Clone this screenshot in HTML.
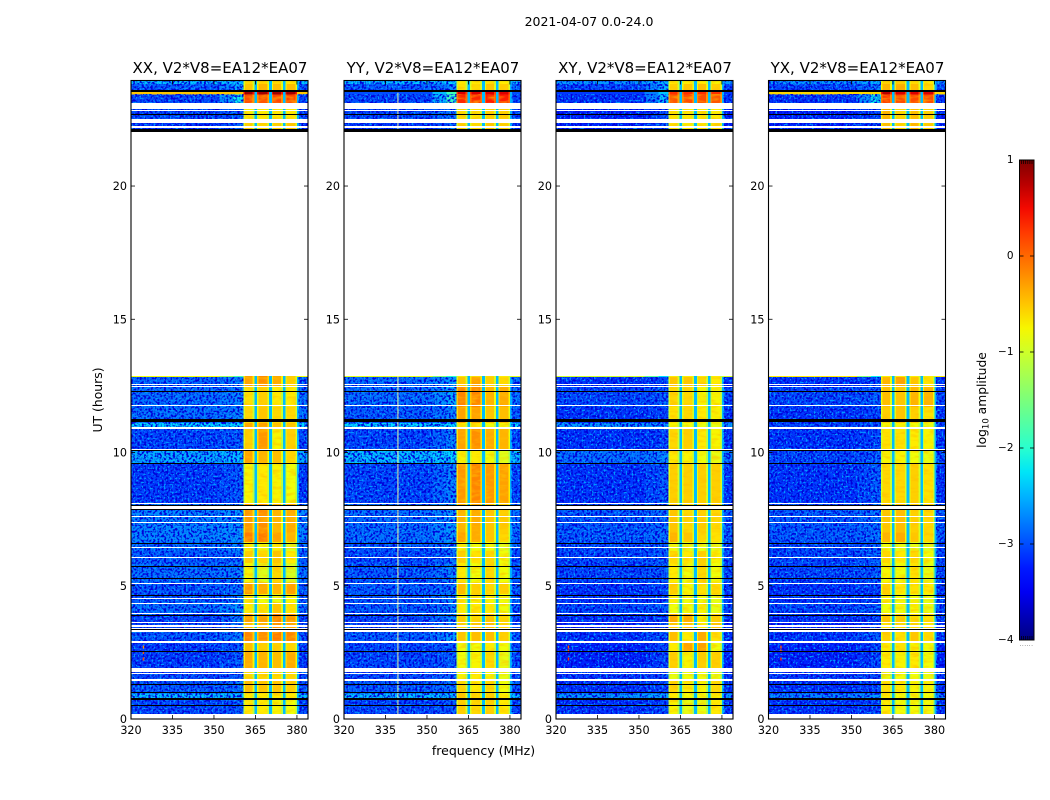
<!DOCTYPE html>
<html>
<head>
<meta charset="utf-8">
<title>2021-04-07 0.0-24.0</title>
<style>
html,body{margin:0;padding:0;background:#fff;width:1050px;height:800px;overflow:hidden}
svg{display:block}
text{font-family:"DejaVu Sans","Liberation Sans",sans-serif;fill:#000}
</style>
</head>
<body>
<svg id="fig" width="1050" height="800" viewBox="0 0 1050 800" xmlns="http://www.w3.org/2000/svg">
  <defs>
    <filter id="speckle-dark" x="0" y="0" width="100%" height="100%" color-interpolation-filters="sRGB">
      <feTurbulence type="fractalNoise" baseFrequency="0.45" numOctaves="1" seed="4"/>
      <feColorMatrix type="matrix" values="0 0 0 0 0  0 0 0 0 0  0 0 0 0 0.85  6 0 0 0 -2.75"/>
    </filter>
    <filter id="speckle-light" x="0" y="0" width="100%" height="100%" color-interpolation-filters="sRGB">
      <feTurbulence type="fractalNoise" baseFrequency="0.5" numOctaves="1" seed="11"/>
      <feColorMatrix type="matrix" values="0 0 0 0 0  0 0 0 0 0.6  0 0 0 0 1  0 6 0 0 -3.3"/>
    </filter>
    <filter id="band-blotch" x="0" y="0" width="100%" height="100%" color-interpolation-filters="sRGB">
      <feTurbulence type="fractalNoise" baseFrequency="0.1 0.3" numOctaves="2" seed="7"/>
      <feColorMatrix type="matrix" values="0 0 0 0 1  0 0 0 0 0.75  0 0 0 0 0  3 0 0 0 -1.3"/>
    </filter>
    <linearGradient id="jet-gradient" x1="0" y1="1" x2="0" y2="0"></linearGradient>
  </defs>
  <text x="589" y="26" font-size="12.5" text-anchor="middle">2021-04-07 0.0-24.0</text>
  <text x="483.5" y="755" font-size="12.5" text-anchor="middle">frequency (MHz)</text>
  <text x="0" y="0" font-size="12.4" text-anchor="middle" transform="translate(102 400) rotate(-90)">UT (hours)</text>
  <g id="panels"></g>
  <g id="colorbar"></g>
  <text x="0" y="0" font-size="12.3" text-anchor="middle" transform="translate(986 400) rotate(-90)">log<tspan font-size="8.5" dy="2.5">10</tspan><tspan dy="-2.5"> amplitude</tspan></text>
  <text x="1026.5" y="646" font-size="6" letter-spacing="0.4" text-anchor="middle" style="fill:#666">......</text>
</svg>
<script>
// ---------- chart data ----------
const xTicks = [320, 335, 350, 365, 380];
const yTicks = [0, 5, 10, 15, 20];
const colorTicks = [1, 0, -1, -2, -3, -4];
const panelTitles = ['XX, V2*V8=EA12*EA07', 'YY, V2*V8=EA12*EA07', 'XY, V2*V8=EA12*EA07', 'YX, V2*V8=EA12*EA07'];
const freqRange = [320, 384];
const timeRange = [0, 23.96];
const colorRange = [-4, 1];

// time blocks (hours)
const blockStart = [0.19,0.79,0.96,1.49,1.91,2.55,2.89,3.27,3.6,3.98,4.37,4.7,5.13,5.86,6.3,6.65,7.0,7.8,8.1,9.6,10.05,10.9,11.1,11.7,12.45,12.83,22.04,22.51,22.89,23.44,23.6,23.83];
const blockEnd   = [0.79,0.96,1.49,1.91,2.55,2.89,3.27,3.6,3.98,4.37,4.7,5.13,5.86,6.3,6.65,7.0,7.8,8.1,9.6,10.05,10.9,11.1,11.7,12.45,12.83,12.87,22.51,22.89,23.44,23.6,23.83,23.96];

// log10 amplitude per block: [background, near-band, sub1, sub2, sub3, sub4]
const levelsXX = [
[-3.0,-2.9,-.7,-.7,-.75,-.8],[-2.4,-2.4,-.7,-.7,-.7,-.7],[-2.9,-2.8,-.45,-.5,-.5,-.55],[-3.0,-2.9,-.6,-.6,-.6,-.6],
[-3.05,-2.9,-.35,-.4,-.45,-.35],[-3.05,-2.9,-.45,-.55,-.55,-.6],[-2.9,-2.7,-.15,-.2,-.1,-.15],[-3,-2.8,-.45,-.4,-.2,-.3],
[-3,-2.7,-.3,-.3,-.15,-.25],[-2.8,-2.6,-.7,-.65,-.5,-.65],[-2.9,-2.7,-.65,-.8,-.85,-.75],[-2.9,-2.8,-.25,-.35,-.4,-.3],
[-2.8,-2.7,-.75,-.9,-.6,-.95],[-2.9,-2.8,-.55,-.6,-.5,-.7],[-2.8,-2.7,-.7,-.8,-.7,-.9],[-2.7,-2.6,-.1,-.1,-.3,-.4],
[-2.7,-2.6,-.25,-.2,-.4,-.35],[-2.7,-2.6,-.25,-.2,-.4,-.35],[-3.05,-2.9,-.75,-.7,-.75,-.8],[-2.5,-2.4,-.3,-.4,-.45,-.6],
[-3,-2.9,-.55,-.25,-.75,-.55],[-2.3,-2.3,-.3,-.3,-.5,-.5],[-2.8,-2.7,-.6,-.5,-.6,-.6],[-2.8,-2.7,-.65,-.55,-.7,-.7],
[-2.85,-2.7,-.3,-.2,-.35,-.55],[-.8,-1.8,-.3,-.2,-.35,-.55],[-3.1,-2.9,-.55,-.6,-.55,-.5],[-3,-2.9,-.7,-.7,-.7,-.7],
[-3,-2.2,.15,.1,.2,.2],[-.5,-.5,.85,.85,.85,.85],[-2.9,-2.5,-.5,-.4,-.45,-.45],[-2.4,-2.4,-.6,-.6,-.6,-.7]
];
const levelsYY = [
[-3,-2.9,-.55,-.6,-.55,-.7],[-2.4,-2.4,-.5,-.6,-.55,-.7],[-2.9,-2.8,-.6,-.7,-.6,-.8],[-3,-2.9,-.75,-.7,-.75,-.85],
[-3,-2.9,-.8,-.75,-.6,-.85],[-3,-2.9,-.8,-.8,-.7,-.8],[-2.9,-2.6,-.5,-.45,-.45,-.55],[-3,-2.8,-.6,-.5,-.45,-.6],
[-3,-2.7,-.55,-.6,-.5,-.6],[-2.9,-2.7,-.7,-.7,-.7,-.8],[-2.9,-2.7,-.7,-.75,-.75,-.8],[-2.9,-2.8,-.45,-.55,-.6,-.55],
[-2.9,-2.7,-.7,-.8,-.6,-.8],[-3,-2.8,-.55,-.65,-.6,-.8],[-2.9,-2.7,-.75,-.8,-.8,-.9],[-2.8,-2.6,-.3,-.35,-.5,-.6],
[-2.8,-2.6,-.4,-.35,-.5,-.55],[-2.8,-2.6,-.4,-.35,-.5,-.55],[-3,-2.7,-.25,-.15,-.25,-.3],[-2.4,-2.3,-.75,-.7,-.8,-.9],
[-3,-2.7,-.3,-.2,-.35,-.4],[-2.3,-2.3,-.7,-.7,-.8,-.8],[-2.9,-2.7,-.3,-.3,-.5,-.45],[-2.8,-2.5,-.15,-.15,-.4,-.35],
[-2.8,-2.6,-.5,-.3,-.55,-.6],[-.9,-2.0,-.7,-.6,-.6,-.7],[-3.1,-2.9,-.55,-.6,-.5,-.55],[-3,-2.8,-.6,-.65,-.55,-.55],
[-3,-1.9,.35,.35,.4,.4],[-3,-1.9,.6,.6,.6,.6],[-2.9,-2.7,-.65,-.6,-.5,-.55],[-2.4,-2.3,-.7,-.7,-.65,-.7]
];
const levelsXY = [
[-3.1,-3,-.75,-.85,-.85,-.7],[-2.6,-2.5,-.7,-.8,-.8,-.75],[-3.1,-3,-.6,-.7,-.75,-.6],[-3.1,-3,-.85,-.8,-.8,-.85],
[-3.2,-3,-.55,-.75,-.55,-.55],[-3.2,-3,-.7,-.3,-.3,-.8],[-3.1,-2.9,-.45,-.7,-.35,-.65],[-3.2,-3,-.5,-.5,-.7,-.5],
[-3.1,-3,-.35,-.35,-.75,-.55],[-3,-2.9,-.8,-.8,-.75,-.85],[-3.1,-3,-.7,-.8,-.8,-.85],[-3.1,-3,-.55,-.75,-.65,-.6],
[-3,-2.9,-.7,-.8,-.6,-.8],[-3,-2.9,-.6,-.7,-.55,-.75],[-3,-2.9,-.8,-.85,-.85,-.85],[-2.9,-2.8,-.4,-.5,-.6,-.65],
[-2.9,-2.8,-.5,-.6,-.55,-.6],[-2.9,-2.8,-.5,-.6,-.55,-.6],[-3.1,-2.9,-.55,-.55,-.55,-.55],[-2.8,-2.7,-.7,-.75,-.8,-.85],
[-3.1,-3,-.6,-.55,-.7,-.75],[-2.6,-2.6,-.75,-.8,-.85,-.85],[-3.1,-3,-.65,-.6,-.7,-.75],[-3,-2.9,-.6,-.6,-.75,-.75],
[-3.1,-3,-.5,-.5,-.6,-.7],[-1.0,-2.3,-.7,-.7,-.7,-.7],[-3.2,-3,-.65,-.7,-.65,-.6],[-3.2,-3,-.65,-.7,-.7,-.7],
[-3.1,-2.4,.1,.15,.15,.1],[-3.1,-2.4,.3,.3,.3,.3],[-3.0,-2.5,-.55,-.5,-.45,-.55],[-2.6,-2.5,-.7,-.7,-.7,-.75]
];
const levelsYX = [
[-3.1,-3,-.7,-.8,-.8,-.8],[-2.7,-2.6,-.7,-.8,-.8,-.8],[-3.1,-3,-.65,-.7,-.75,-.75],[-3.1,-3,-.85,-.8,-.8,-.85],
[-3.2,-3,-.7,-.75,-.7,-.8],[-3.2,-3,-.7,-.65,-.75,-.8],[-3.1,-2.9,-.55,-.65,-.5,-.6],[-3.2,-3,-.65,-.6,-.6,-.7],
[-3.1,-3,-.5,-.55,-.6,-.65],[-3,-2.9,-.8,-.8,-.75,-.85],[-3.1,-3,-.75,-.8,-.8,-.85],[-3.1,-3,-.55,-.7,-.65,-.7],
[-3,-2.9,-.75,-.8,-.65,-.85],[-3,-2.9,-.6,-.7,-.6,-.8],[-3,-2.9,-.8,-.85,-.85,-.9],[-2.9,-2.8,-.4,-.35,-.5,-.6],
[-2.9,-2.8,-.5,-.45,-.55,-.6],[-2.9,-2.8,-.5,-.45,-.55,-.6],[-3.1,-2.9,-.6,-.6,-.55,-.65],[-3,-2.9,-.75,-.75,-.8,-.85],
[-3.1,-3,-.65,-.65,-.7,-.75],[-3,-2.9,-.75,-.75,-.8,-.85],[-3.1,-3,-.55,-.5,-.55,-.65],[-3,-2.9,-.45,-.5,-.4,-.4],
[-3.1,-3,-.4,-.3,-.5,-.65],[-.7,-2.2,-.7,-.7,-.7,-.7],[-3.2,-3,-.45,-.6,-.4,-.55],[-3.2,-3,-.4,-.6,-.45,-.55],
[-3.1,-2.2,.25,.15,.15,.15],[-.6,-.6,.75,.6,.6,.6],[-3.0,-2.7,-.4,-.35,-.45,-.6],[-2.6,-2.5,-.55,-.55,-.6,-.7]
];
const panelLevels = [levelsXX, levelsYY, levelsXY, levelsYX];

// frequency columns (MHz) and which level each one reads
const columnStart = [320,352,357,360.6,361.2,364.0,364.6,365.6,366.1,369.3,369.9,370.9,371.4,374.3,374.9,375.8,376.3,379.5,380.1,380.7];
const columnEnd   = [352,357,360.6,361.2,364.0,364.6,365.6,366.1,369.3,369.9,370.9,371.4,374.3,374.9,375.8,376.3,379.5,380.1,380.7,384];
const columnKind  = ['bg','mid','near','s1','s1','s1','gap','s2','s2','s2','gap','s3','s3','s3','gap','s4','s4','s4','edge','bg'];
const columnDelta = [0,0,0,-.35,0,-.4,0,-.35,0,-.4,0,-.35,0,-.4,0,-.35,0,-.4,0,0];
const gapLevel = -2.45;
const edgeLevel = -2.5;

// flagged rows (hours)
const flaggedRows = [[0,.19],[1.44,1.49],[1.70,1.73],[1.75,1.91],[2.87,2.92],[3.28,3.34],[3.39,3.43],[3.47,3.51],[3.59,3.63],[3.95,3.99],[4.33,4.37],[4.51,4.55],[5.07,5.11],[6.05,6.09],[6.40,6.44],[7.36,7.4],[7.57,7.62],[7.88,8.0],[8.07,8.11],[10.09,10.13],[10.89,10.95],[11.75,11.79],[12.45,12.49],[12.54,12.58],[12.87,22.04],[22.18,22.24],[22.35,22.51],[22.84,22.87],[22.89,23.13]];
const zeroRows = [[.47,.51],[.73,.77],[.98,1.01],[1.26,1.30],[2.53,2.57],[3.36,3.39],[3.87,3.91],[4.63,4.67],[5.25,5.29],[5.71,5.75],[6.58,6.62],[7.85,7.89],[8.0,8.03],[9.58,9.62],[10.05,10.09],[11.14,11.26],[12.28,12.32],[22.04,22.14],[22.67,22.71],[23.53,23.6]];

// persistent interference: vertical line (MHz) per panel, and isolated spots [MHz, hours, log amp]
const rfiLines = [[], [339.5], [], []];
const rfiSpots = [
[[324.5,2.25,.2],[324.5,2.5,.1],[324.5,2.7,-.2]],
[],
[[324.5,2.25,.3],[324.5,2.55,.2],[324.5,2.7,.1]],
[[324.5,2.25,.3],[324.5,2.55,.2],[324.5,2.7,.1]]
];

// ---------- layout ----------
const NS = 'http://www.w3.org/2000/svg';
const panelLeft = [131, 344, 556, 768.5];
const panelWidth = 177;
const plotTop = 80.5;
const plotBottom = 719;
const barLeft = 1019.5, barRight = 1034, barTop = 160, barBottom = 640;

function mk(tag, attrs, parent) {
  const el = document.createElementNS(NS, tag);
  for (const k in attrs) el.setAttribute(k, attrs[k]);
  if (parent) parent.appendChild(el);
  return el;
}
function lerpStops(xs, ys, v) {
  for (let i = 1; i < xs.length; i++) if (v <= xs[i]) return ys[i-1] + (ys[i]-ys[i-1]) * (v-xs[i-1]) / (xs[i]-xs[i-1]);
  return ys[ys.length-1];
}
function jet(value) {
  const v = Math.max(0, Math.min(1, (value - colorRange[0]) / (colorRange[1] - colorRange[0])));
  const r = lerpStops([0,.35,.66,.89,1],[0,0,1,1,.5],v);
  const g = lerpStops([0,.125,.375,.64,.91,1],[0,0,1,1,0,0],v);
  const b = lerpStops([0,.11,.34,.65,1],[.5,1,1,0,0],v);
  return 'rgb(' + Math.round(r*255) + ',' + Math.round(g*255) + ',' + Math.round(b*255) + ')';
}
const yOf = t => plotBottom - (t - timeRange[0]) * (plotBottom - plotTop) / (timeRange[1] - timeRange[0]);
const xScale = left => f => left + (f - freqRange[0]) * panelWidth / (freqRange[1] - freqRange[0]);
function cellValue(row, c) {
  const kind = columnKind[c];
  if (kind === 'bg') return row[0];
  if (kind === 'near') return row[1];
  if (kind === 'mid') return (row[0] + row[1]) / 2;
  if (kind === 'gap') return gapLevel;
  if (kind === 'edge') return Math.max(row[0], edgeLevel);
  return row[Number(kind[1]) + 1] + columnDelta[c];
}

const panelsRoot = document.getElementById('panels');
panelTitles.forEach((title, p) => {
  const left = panelLeft[p];
  const xOf = xScale(left);
  const g = mk('g', {}, panelsRoot);
  
  

  const back = mk('rect', {x:left, y:plotTop, width:panelWidth, height:plotBottom-plotTop, fill:'#fff'}, g);
  
  

  const cells = mk('g', {'shape-rendering':'crispEdges'}, g);
  
  
  panelLevels[p].forEach((row, b) => {
    columnStart.forEach((f0, c) => {
      const cell = mk('rect', {
        x: xOf(f0), width: xOf(columnEnd[c]) - xOf(f0),
        y: yOf(blockEnd[b]), height: yOf(blockStart[b]) - yOf(blockEnd[b]),
        fill: jet(cellValue(row, c))
      }, cells);
      
      
    });
  });

  // decorative pixel texture over the noise-only part of the band (skips the bright strips)
  const textureSpans = [[blockStart[0], blockEnd[24]], [blockStart[26], blockEnd[28]], [blockStart[30], blockEnd[31]]];
  textureSpans.forEach(span => {
    [[320,360.6],[380.7,384]].forEach(range => {
      ['speckle-dark', 'speckle-light'].forEach(id => {
        const tex = mk('rect', {
          x: xOf(range[0]), width: xOf(range[1]) - xOf(range[0]),
          y: yOf(span[1]), height: yOf(span[0]) - yOf(span[1]),
          fill: '#000', filter: 'url(#' + id + ')'
        }, g);
        
        
      });
    });
    // soft blotches inside each sub-band
    [[361.2,364.0],[366.1,369.3],[371.4,374.3],[376.3,379.5]].forEach(sub => {
      const blot = mk('rect', {
        x: xOf(sub[0]), width: xOf(sub[1]) - xOf(sub[0]),
        y: yOf(span[1]), height: yOf(span[0]) - yOf(span[1]),
        fill: '#000', filter: 'url(#band-blotch)', opacity: .6
      }, g);
      
      
    });
  });

  rfiLines[p].forEach(f => {
    const line = mk('line', {x1:xOf(f), x2:xOf(f), y1:yOf(12.87), y2:yOf(0.19), stroke:'#e8f5a0', 'stroke-width':1}, g);
    
    
    const lineTop = mk('line', {x1:xOf(f), x2:xOf(f), y1:yOf(23.5), y2:yOf(22.14), stroke:'#e8f5a0', 'stroke-width':1}, g);
    
    
  });
  rfiSpots[p].forEach(s => {
    const spot = mk('rect', {x:xOf(s[0])-.7, y:yOf(s[1])-1.5, width:1.4, height:3, fill:jet(s[2])}, g);
    
    
  });

  const flags = mk('g', {'shape-rendering':'crispEdges'}, g);
  
  
  flaggedRows.forEach(r => {
    const top = Math.round(yOf(r[1]));
    const w = mk('rect', {x:left, width:panelWidth, y:top, height:Math.max(1, Math.round(yOf(r[0]))-top), fill:'#fff'}, flags);
    
    
  });
  zeroRows.forEach(r => {
    const top = Math.round(yOf(r[1]));
    const k = mk('rect', {x:left, width:panelWidth, y:top, height:Math.max(1, Math.round(yOf(r[0]))-top), fill:'#000'}, flags);
    
    
  });

  const frame = mk('rect', {x:left, y:plotTop, width:panelWidth, height:plotBottom-plotTop, fill:'none', stroke:'#000', 'stroke-width':1.1}, g);
  
  

  xTicks.forEach(v => {
    const x = xOf(v);
    const t1 = mk('line', {x1:x, x2:x, y1:plotBottom, y2:plotBottom-4, stroke:'#000', 'stroke-width':.8}, g);
    
    
    const t2 = mk('line', {x1:x, x2:x, y1:plotTop, y2:plotTop+4, stroke:'#000', 'stroke-width':.8}, g);
    
    
    const lab = mk('text', {x:x, y:plotBottom+15, 'font-size':11.2, 'text-anchor':'middle'}, g);
    lab.textContent = v;
    
    
  });
  yTicks.forEach(v => {
    const y = yOf(v);
    const t1 = mk('line', {x1:left, x2:left+4, y1:y, y2:y, stroke:'#000', 'stroke-width':.8}, g);
    
    
    const t2 = mk('line', {x1:left+panelWidth, x2:left+panelWidth-4, y1:y, y2:y, stroke:'#000', 'stroke-width':.8}, g);
    
    
    const lab = mk('text', {x:left-4, y:y+4, 'font-size':11.2, 'text-anchor':'end'}, g);
    lab.textContent = v;
    
    
  });

  const ttl = mk('text', {x:left+panelWidth/2+.5, y:73, 'font-size':15, 'text-anchor':'middle'}, g);
  ttl.textContent = title;
  
  
});

// ---------- colorbar ----------
const grad = document.getElementById('jet-gradient');
const stopValues = [-4,-3.75,-3.5,-3.25,-3,-2.75,-2.5,-2.25,-2,-1.75,-1.5,-1.25,-1,-.75,-.5,-.25,0,.25,.5,.75,1];
stopValues.forEach(v => {
  mk('stop', {offset:(v-colorRange[0])/(colorRange[1]-colorRange[0]), 'stop-color':jet(v)}, grad);
});
const cbar = document.getElementById('colorbar');
const cOf = v => barBottom - (v - colorRange[0]) * (barBottom - barTop) / (colorRange[1] - colorRange[0]);
const barRect = mk('rect', {x:barLeft, y:barTop, width:barRight-barLeft, height:barBottom-barTop, fill:'url(#jet-gradient)', stroke:'#000', 'stroke-width':1}, cbar);


colorTicks.forEach(v => {
  const y = cOf(v);
  const a = mk('line', {x1:barLeft, x2:barLeft+4, y1:y, y2:y, stroke:'#000', 'stroke-width':.8}, cbar);
  
  
  const b = mk('line', {x1:barRight, x2:barRight-4, y1:y, y2:y, stroke:'#000', 'stroke-width':.8}, cbar);
  
  
  const lab = mk('text', {x:barLeft-6, y:y+3, 'font-size':10.5, 'text-anchor':'end'}, cbar);
  lab.textContent = String(v).replace('-', '\u2212');
  
  
});
[0,1,2,3,4,5].forEach(i => {
  const x = barLeft + 2 + i * 2.1;
  const top = mk('line', {x1:x, x2:x, y1:barTop, y2:barTop+4, stroke:'#000', 'stroke-width':.7}, cbar);
  
  
  const bot = mk('line', {x1:x, x2:x, y1:barBottom, y2:barBottom-4, stroke:'#000', 'stroke-width':.7}, cbar);
  
  
});
</script>
</body>
</html>
